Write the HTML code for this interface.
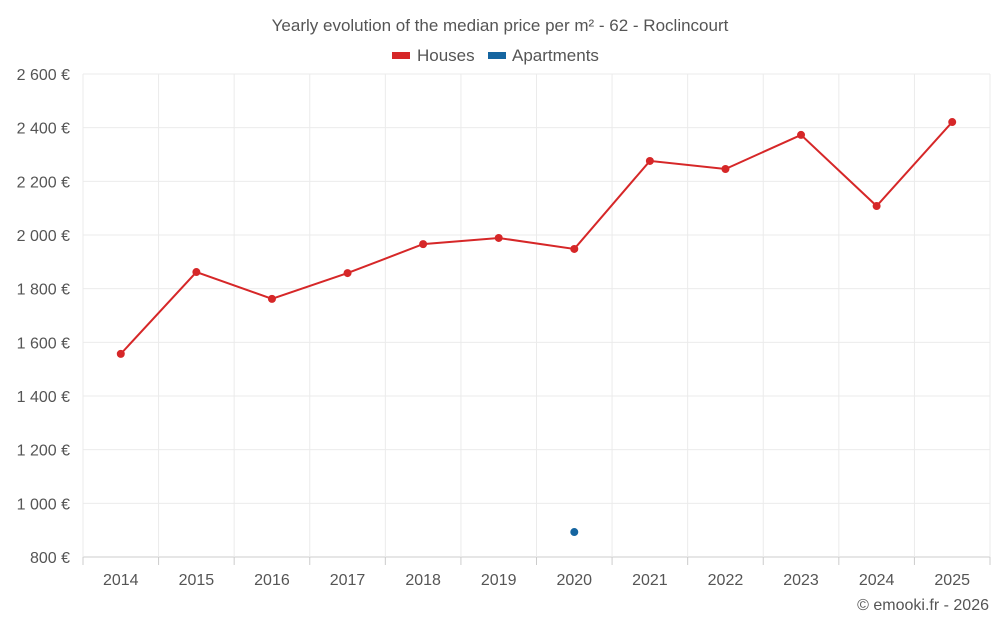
<!DOCTYPE html>
<html><head><meta charset="utf-8">
<style>
html,body{margin:0;padding:0;background:#fff;}
svg{display:block;font-family:"Liberation Sans",Roboto,sans-serif;}
</style></head>
<body>
<svg id="chart" width="1000" height="625" viewBox="0 0 1000 625">
  <text x="500" y="31" text-anchor="middle" font-size="17" fill="#555">Yearly evolution of the median price per m² - 62 - Roclincourt</text>
  <g>
    <g>
      <rect x="392" y="52" width="18" height="7" fill="#d62728"></rect>
      <text x="417" y="61" font-size="17" fill="#555">Houses</text>
    </g>
    <g>
      <rect x="488" y="52" width="18" height="7" fill="#1565a0"></rect>
      <text x="512" y="61" font-size="17" fill="#555">Apartments</text>
    </g>
  </g>
  <g id="grid"></g>
  <g id="yaxis"></g>
  <g id="xaxis"></g>
  <g id="series"></g>
  <text x="989" y="610" text-anchor="end" font-size="16" fill="#555">© emooki.fr - 2026</text>
</svg>
<script>
const years = ["2014","2015","2016","2017","2018","2019","2020","2021","2022","2023","2024","2025"];
const houses = [1557,1862,1762,1858,1966,1989,1948,2276,2246,2373,2108,2421];
const apartments = [null,null,null,null,null,null,893,null,null,null,null,null];
const yTicks = [800,1000,1200,1400,1600,1800,2000,2200,2400,2600];
const yTickLabels = ["800 €","1 000 €","1 200 €","1 400 €","1 600 €","1 800 €","2 000 €","2 200 €","2 400 €","2 600 €"];

const NS="http://www.w3.org/2000/svg";
const L=83,R=990,T=74,B=557,yMin=800,yMax=2600;
const band=(R-L)/years.length;
function x(i){return L+band*(i+0.5);}
function y(v){return B-(v-yMin)/(yMax-yMin)*(B-T);}
function mk(tag,attrs,parent){const e=document.createElementNS(NS,tag);for(const k in attrs)e.setAttribute(k,attrs[k]);parent.appendChild(e);return e;}
const grid=document.getElementById('grid'),ya=document.getElementById('yaxis'),xa=document.getElementById('xaxis'),se=document.getElementById('series');

yTicks.forEach((v,i)=>{
  const l=mk('line',{x1:L,x2:R,y1:y(v),y2:y(v),stroke:v===yMin?'#ccc':'#ebebeb','stroke-width':1},grid);
  
  
  const t=mk('text',{x:70,y:y(v)+6,'text-anchor':'end','font-size':16,fill:'#555'},ya);
  t.textContent=yTickLabels[i];
  
  
});
for(let i=0;i<=years.length;i++){
  const gx=L+band*i;
  const l=mk('line',{x1:gx,x2:gx,y1:T,y2:B,stroke:'#ebebeb','stroke-width':1},grid);
  
  
  const tk=mk('line',{x1:gx,x2:gx,y1:B,y2:B+8,stroke:'#ccc','stroke-width':1},xa);
  
  
}
years.forEach((yr,i)=>{
  const t=mk('text',{x:x(i),y:585,'text-anchor':'middle','font-size':16,fill:'#555'},xa);
  t.textContent=yr;
  
  
});
function draw(vals,color,name){
  let d='';
  vals.forEach((v,i)=>{if(v==null)return;d+=(d?'L':'M')+x(i)+','+y(v);});
  if(d.indexOf('L')>0){
    const p=mk('path',{d:d,fill:'none',stroke:color,'stroke-width':2},se);
    
    
  }
  vals.forEach((v,i)=>{
    if(v==null)return;
    const c=mk('circle',{cx:x(i),cy:y(v),r:4,fill:color},se);
    
    
  });
}
draw(houses,'#d62728','houses');
draw(apartments,'#1565a0','apartments');
</script>
</body></html>
